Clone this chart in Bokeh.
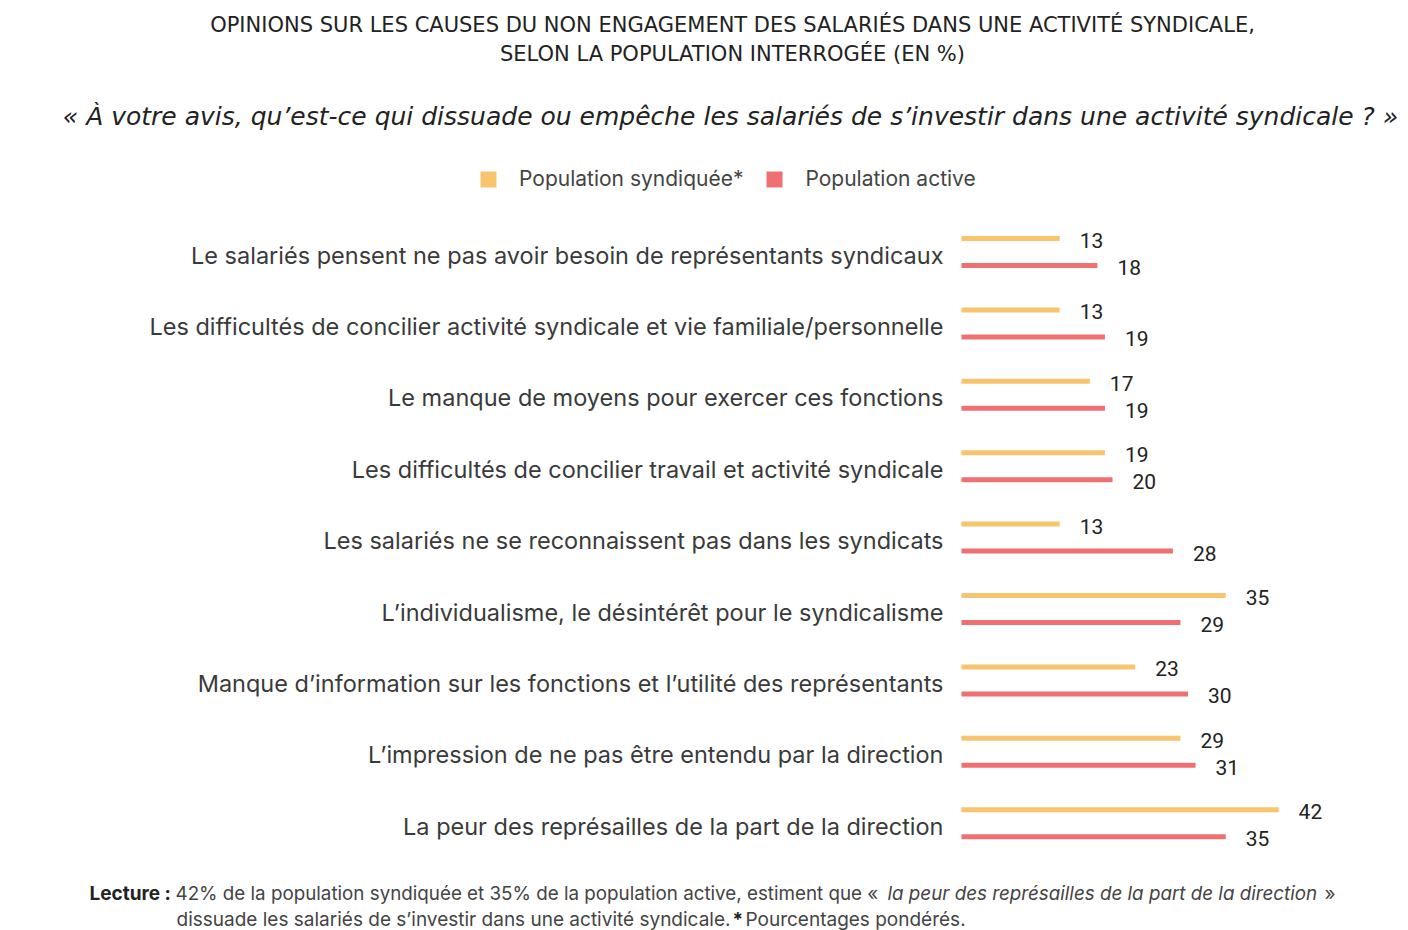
from bokeh.plotting import figure
from bokeh.models import Range1d, Label, Legend, LegendItem, ColumnDataSource
from bokeh.core.properties import value
from bokeh.embed import file_html
from bokeh.resources import INLINE

# ---------------- data ----------------
categories = [
    "Le salariés pensent ne pas avoir besoin de représentants syndicaux",
    "Les difficultés de concilier activité syndicale et vie familiale/personnelle",
    "Le manque de moyens pour exercer ces fonctions",
    "Les difficultés de concilier travail et activité syndicale",
    "Les salariés ne se reconnaissent pas dans les syndicats",
    "L’individualisme, le désintérêt pour le syndicalisme",
    "Manque d’information sur les fonctions et l’utilité des représentants",
    "L’impression de ne pas être entendu par la direction",
    "La peur des représailles de la part de la direction",
]
population_syndiquee = [13, 13, 17, 19, 13, 35, 23, 29, 42]
population_active = [18, 19, 19, 20, 28, 29, 30, 31, 35]
series_names = ["Population syndiquée*", "Population active"]
series_colors = ["#F8C46F", "#EE7073"]

title_line1 = "OPINIONS SUR LES CAUSES DU NON ENGAGEMENT DES SALARIÉS DANS UNE ACTIVITÉ SYNDICALE,"
title_line2 = "SELON LA POPULATION INTERROGÉE (EN %)"
subtitle = "« À votre avis, qu’est-ce qui dissuade ou empêche les salariés de s’investir dans une activité syndicale ? »"

# ---------------- layout ----------------
W, H = 1400, 930
X0 = 961.0      # px where value 0 lies
PPU = 7.55      # px per percentage point
ROW0 = 251.5    # px of first row centre
STEP = 71.4     # px between rows
OFF = 13.5      # px offset of each bar from row centre

FONT = "Inter"
NUMFONT = "Roboto"

p = figure(width=W, height=H, output_backend="svg", toolbar_location=None,
           x_range=Range1d(-X0 / PPU, (W - X0) / PPU),
           y_range=Range1d((H - ROW0) / STEP, -ROW0 / STEP),
           x_axis_location=None, y_axis_location=None,
           min_border=0, outline_line_color=None)
p.grid.visible = False
p.background_fill_color = "white"
p.border_fill_color = "white"

idx = list(range(len(categories)))
d = OFF / STEP
src_s = ColumnDataSource(dict(y=[i - d for i in idx], v=population_syndiquee,
                              t=[str(v) for v in population_syndiquee], zero=[0] * len(idx)))
src_a = ColumnDataSource(dict(y=[i + d for i in idx], v=population_active,
                              t=[str(v) for v in population_active], zero=[0] * len(idx)))

for src, col in ((src_s, series_colors[0]), (src_a, series_colors[1])):
    p.segment(x0="zero", y0="y", x1="v", y1="y", source=src,
              line_color=col, line_width=5, line_cap="butt")
    p.text(x="v", y="y", text="t", source=src, x_offset=20, y_offset=2,
           text_font=value(NUMFONT), text_font_size="21px", text_color="#222222",
           text_baseline="middle", text_align="left")

cat_src = ColumnDataSource(dict(y=idx, t=categories, zero=[0] * len(idx)))
p.text(x="zero", y="y", text="t", source=cat_src, x_offset=-18, y_offset=3,
       text_font=value(FONT), text_font_size="23.5px", text_color="#3a3a3a",
       text_baseline="middle", text_align="right")

# legend
nan = float("nan")
leg_items = []
for name, col in zip(series_names, series_colors):
    r = p.rect(x=[nan], y=[nan], width=1, height=1, fill_color=col, line_color=None)
    leg_items.append(LegendItem(label=name, renderers=[r]))
legend = Legend(items=leg_items, orientation="horizontal",
                location=(478, H - 191), glyph_width=20, glyph_height=20,
                label_standoff=21, spacing=21, padding=0, margin=0,
                label_height=16, border_line_color=None, background_fill_alpha=0,
                label_text_font=FONT, label_text_font_size="21px",
                label_text_color="#444444")
p.add_layout(legend)


def lab(text, px, py, size, font=FONT, style="normal", align="left", color="#333333"):
    p.add_layout(Label(x=px, y=H - py, x_units="screen", y_units="screen",
                       text=text, text_font=font, text_font_size=size,
                       text_font_style=style, text_align=align,
                       text_baseline="middle", text_color=color))


lab(title_line1, 732, 24, "21px", font="DejaVu Sans", align="center", color="#222222")
lab(title_line2, 732, 53, "21px", font="DejaVu Sans", align="center", color="#222222")
lab(subtitle, 730, 116, "25px", font="DejaVu Sans", style="italic", align="center", color="#222222")

lab("Lecture :", 89, 893, "19px", style="bold", color="#222222")
lab("42% de la population syndiquée et 35% de la population active, estiment que «", 175, 893, "18.8px", color="#444444")
lab("la peur des représailles de la part de la direction", 887, 893, "18.8px", style="italic", color="#444444")
lab("»", 1324, 893, "19px", color="#444444")
lab("dissuade les salariés de s’investir dans une activité syndicale.", 176, 919, "19px", color="#444444")
lab("*", 732, 919, "19px", style="bold", color="#222222")
lab("Pourcentages pondérés.", 745, 919, "19px", color="#444444")

open("out.html", "w").write(file_html(p, INLINE))
